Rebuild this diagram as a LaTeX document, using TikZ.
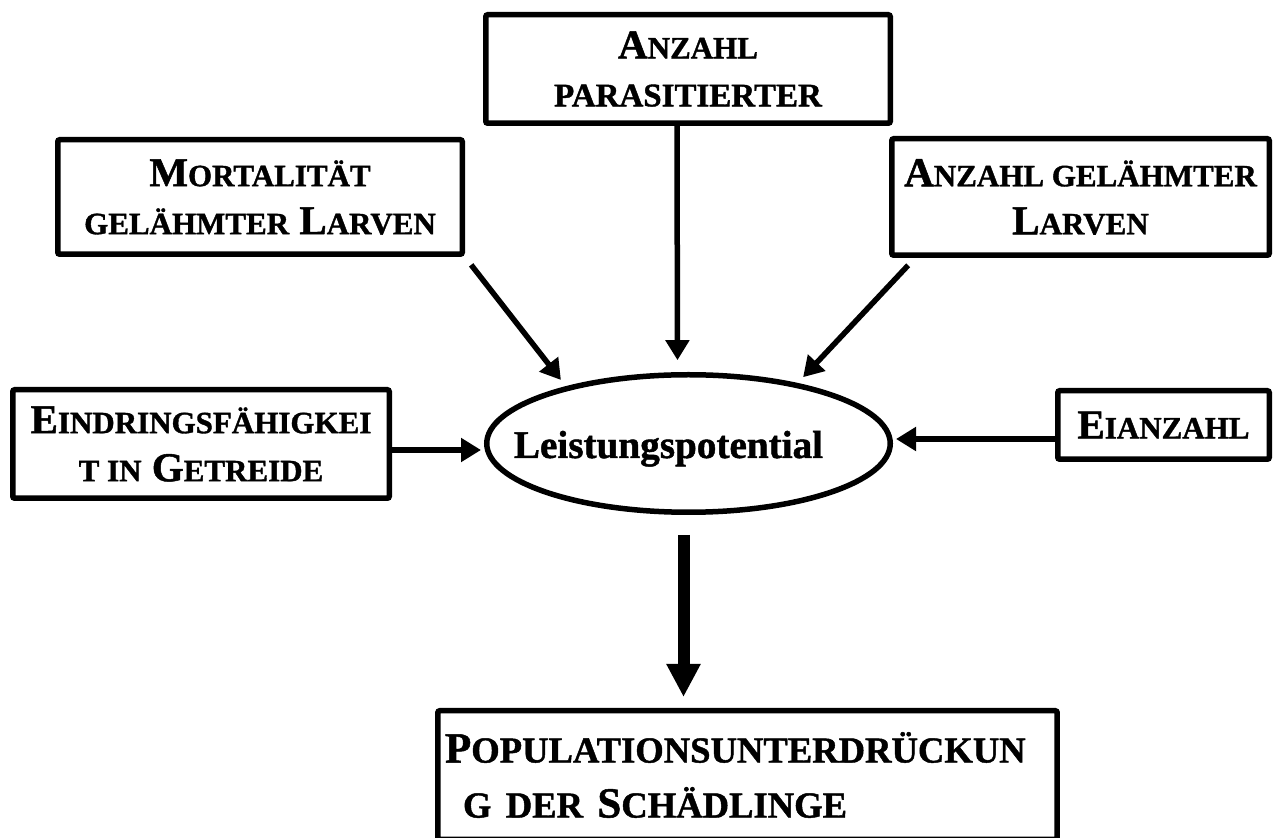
\documentclass[tikz,border=0pt]{standalone}
\usepackage{fontspec}
\setmainfont{Liberation Serif}[BoldFeatures={FakeBold=1.2}]
\usetikzlibrary{shapes.geometric,arrows.meta}
\newcommand{\kl}[2][15.5]{{\fontsize{#1}{24}\selectfont #2}}
\newcommand{\klg}[1]{{\fontsize{18.3}{27.5}\selectfont #1}}

\begin{document}
\begin{tikzpicture}
  [x=0.5pt,y=-0.5pt,
   box/.style={draw,line width=2.75pt,rounded corners=1pt,align=center,inner sep=2pt,
     font=\fontsize{20.5}{24}\selectfont\bfseries},
   arr/.style={line width=2.75pt,-{Triangle[length=10pt,width=11.5pt]}},
   bigarr/.style={line width=6pt,-{Triangle[length=16.5pt,width=16pt]}}]
  \useasboundingbox (0,0) rectangle (1274,838);

  \node[box,minimum width=202.25pt,minimum height=54.25pt] (par) at (688,69)
    {A\kl{NZAHL}\\\kl[16.5]{PARASITIERTER}};
  \node[box,minimum width=202.25pt,minimum height=57.25pt] (mort) at (260,197)
    {M\kl{ORTALITÄT}\\\kl{GELÄHMTER} L\kl{ARVEN}};
  \node[box,minimum width=188.75pt,minimum height=58.25pt] (gel) at (1080.5,197)
    {A\kl{NZAHL GELÄHMTER}\\L\kl{ARVEN}};
  \node[box,minimum width=188.25pt,minimum height=54.25pt] (eind) at (201,444)
    {E\kl{INDRINGSFÄHIGKEI}\\\kl{T IN} G\kl{ETREIDE}};
  \node[box,minimum width=105.75pt,minimum height=34.25pt] (eian) at (1163.5,425)
    {E\kl{IANZAHL}};
  \node[box,align=left,text width=302.5pt,inner xsep=3.6pt,minimum height=64.25pt,
    font=\fontsize{21.5}{27.5}\selectfont\bfseries] (pop) at (747.5,775)
    {P\klg{OPULATIONSUNTERDRÜCKUN}\\\hspace*{9pt}\klg{G DER} S\klg{CHÄDLINGE}};

  \node[ellipse,draw,line width=2.75pt,minimum width=201.75pt,minimum height=68.75pt,
    inner sep=0pt] (lp) at (688.5,443.5) {};
  \node[font=\fontsize{19.6}{24}\selectfont\bfseries,anchor=base] (lptext)
    at ([xshift=-10pt,yshift=-7.25pt]lp.center) {Leistungspotential};

  \coordinate (eh) at ([yshift=-3pt]eind.east);
  \coordinate (ah) at ([yshift=-7pt]eian.west);
  \coordinate (ls) at ([xshift=-2.5pt]lp.south);

  \draw[arr,shorten >=5.9pt] ([xshift=-5.5pt]par.south) -- ([xshift=-5.5pt]lp.north);
  \draw[arr,shorten <=5pt,shorten >=4pt] (mort.south east) -- (lp.155);
  \draw[arr,shorten <=5pt,shorten >=4pt] ([xshift=13pt]gel.south west) -- (lp.29);
  \draw[arr,shorten >=1.5pt] (eh) -- (eh -| lp.west);
  \draw[arr,shorten >=1.5pt] (ah) -- (ah -| lp.east);
  \draw[bigarr,shorten <=10pt,shorten >=5.5pt] (ls) -- (ls |- pop.north);
\end{tikzpicture}
\end{document}
